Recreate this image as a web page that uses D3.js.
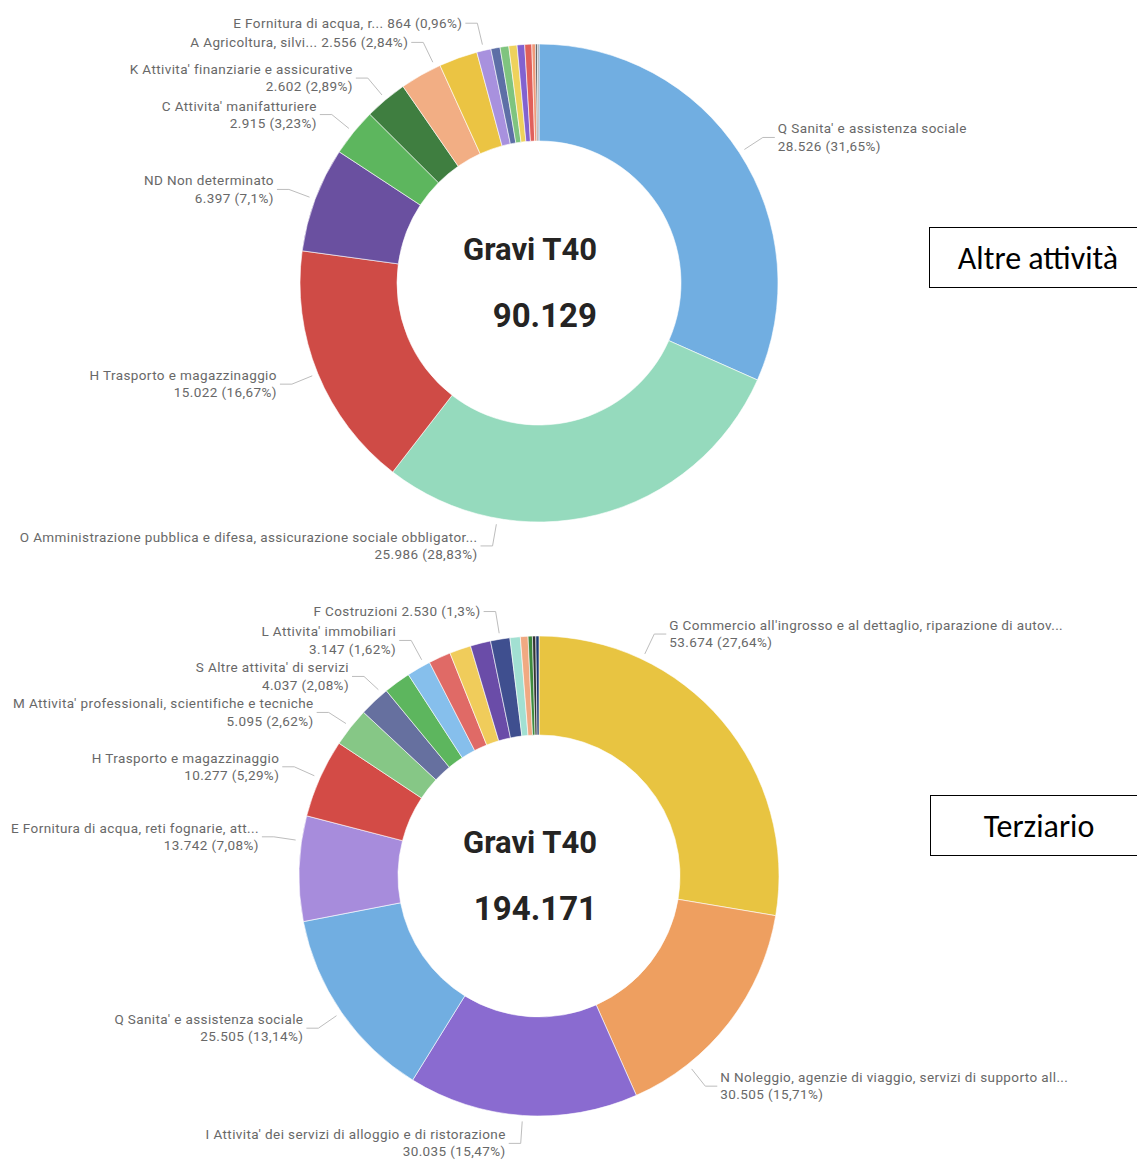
<!DOCTYPE html>
<html><head><meta charset="utf-8">
<script src="https://cdn.jsdelivr.net/npm/d3@7"></script>
<style>body{margin:0;background:#fff;} svg{display:block;}</style>
</head><body><svg id="chart" width="1137" height="1160"></svg>
<script>
// ---------- DATA: "Altre attività" ----------
const topTitle = "Gravi T40";
const topCategories = [
  "Q Sanita' e assistenza sociale",
  "O Amministrazione pubblica e difesa, assicurazione sociale obbligator...",
  "H Trasporto e magazzinaggio",
  "ND Non determinato",
  "C Attivita' manifatturiere",
  "K Attivita' finanziarie e assicurative",
  "A Agricoltura, silvi...",
  "", "E Fornitura di acqua, r...", "", "", "", "", "", "", "", ""
];
const topValues = [28526, 25986, 15022, 6397, 2915, 2602, 2556, 2350, 864, 560, 530, 500, 460, 430, 220, 110, 101];
const topColors = ["#71aee1", "#95dabd", "#cf4b46", "#6a50a0", "#5db65e", "#3f7e40", "#f2ae84", "#ebc443",
  "#a891de", "#5d6fa6", "#7fc47f", "#eed25c", "#8262d0", "#e0605b", "#f09a7a", "#444444", "#9aa0aa"];
const topLeaderT = [0.5, 0.733, 0.5, 0.5, 0.5, 0.5, 0.88, 0.5, 0.5, 0.5, 0.5, 0.5, 0.5, 0.5, 0.5, 0.5, 0.5];
const topInline = ["A Agricoltura, silvi...", "E Fornitura di acqua, r..."];
const topSideLabel = "Altre attività";

// ---------- DATA: "Terziario" ----------
const botTitle = "Gravi T40";
const botCategories = [
  "G Commercio all'ingrosso e al dettaglio, riparazione di autov...",
  "N Noleggio, agenzie di viaggio, servizi di supporto all...",
  "I Attivita' dei servizi di alloggio e di ristorazione",
  "Q Sanita' e assistenza sociale",
  "E Fornitura di acqua, reti fognarie, att...",
  "H Trasporto e magazzinaggio",
  "M Attivita' professionali, scientifiche e tecniche",
  "S Altre attivita' di servizi",
  "",
  "L Attivita' immobiliari",
  "", "", "",
  "F Costruzioni",
  "", "", "", "", ""
];
const botValues = [53674, 30505, 30035, 25505, 13742, 10277, 5095, 4037, 3515, 3147, 2900, 2800, 2650, 2530, 1350, 1000, 560, 440, 409];
const botColors = ["#e8c441", "#ee9f60", "#8a6bd0", "#71aee1", "#a78cdc", "#d34b46", "#86c786", "#66709f",
  "#5db65e", "#86bfec", "#e06a66", "#f0cc5b", "#6a4ca8", "#3f4f8f", "#a2e0d2", "#f0a982", "#3e8a3e", "#333333", "#1e3a70"];
const botLeaderT = [0.256, 0.745, 0.5, 0.5, 0.76, 0.5, 0.5, 0.83, 0.5, 0.77, 0.5, 0.5, 0.5, 0.5, 0.5, 0.5, 0.5, 0.5, 0.5];
const botInline = ["F Costruzioni"];
const botSideLabel = "Terziario";

// ---------- RENDER ----------
const it = d3.formatLocale({decimal: ",", thousands: ".", grouping: [3], currency: ["€", ""]});
const fmtInt = it.format(",d");
const fmtPct = it.format(".2~f");

const svg = d3.select("#chart");
svg.append("rect").attr("width", 1137).attr("height", 1160).attr("fill", "#fff");

function drawDonut(cfg) {
  const {cx, cy, R, r, categories, values, colors, leaderT, inline, title} = cfg;
  const data = values.map((v, i) => ({name: categories[i], v, color: colors[i], t: leaderT[i], i}));
  const total = d3.sum(values);
  const pie = d3.pie().sort(null).value(d => d.v).startAngle(0).endAngle(2 * Math.PI);
  const arcs = pie(data);
  const arc = d3.arc().innerRadius(r).outerRadius(R);
  const g = svg.append("g").attr("transform", `translate(${cx},${cy})`);
  g.selectAll("path.slice").data(arcs).join("path")
    .attr("class", "slice")
    .attr("d", arc)
    .attr("fill", d => d.data.color)
    .attr("stroke", "#fff").attr("stroke-width", 0.6);

  const pt = (a, rad) => [rad * Math.sin(a), -rad * Math.cos(a)];
  const labels = arcs.filter(d => d.data.name).map(d => {
    const a = d.startAngle + (d.endAngle - d.startAngle) * d.data.t;
    const side = a > Math.PI ? -1 : 1;
    const anchor = pt(a, R + 6);
    const elbow = pt(a, R + 28);
    const one = inline.includes(d.data.name);
    const valTxt = fmtInt(d.data.v) + " (" + fmtPct(d.data.v / total * 100) + "%)";
    return {d, a, side, anchor, elbow, y: elbow[1], one, h: one ? 17 : 34, valTxt};
  });
  // simple vertical collision resolution per side
  [-1, 1].forEach(s => {
    const L = labels.filter(l => l.side === s).sort((p, q) => p.y - q.y);
    for (let k = 1; k < L.length; k++) {
      const minY = L[k - 1].y + L[k - 1].h / 2 + L[k].h / 2 + 2;
      if (L[k].y < minY) L[k].y = minY;
    }
  });
  const hLen = 12, gap = 3;
  const lg = g.append("g");
  labels.forEach(l => {
    const ex = l.elbow[0], ey = l.y;
    lg.append("path")
      .attr("d", d3.line()([l.anchor, [ex, ey], [ex + l.side * hLen, ey]]))
      .attr("fill", "none").attr("stroke", "#bdbdbd").attr("stroke-width", 1);
    const tx = ex + l.side * (hLen + gap);
    const t = lg.append("text")
      .attr("x", tx).attr("y", ey)
      .attr("text-anchor", l.side < 0 ? "end" : "start")
      .attr("font-family", "Roboto, 'Noto Sans', sans-serif")
      .attr("font-size", 13.5).attr("letter-spacing", 0.4).attr("fill", "#686868");
    if (l.one) {
      t.append("tspan").attr("x", tx).attr("dy", "0.35em").text(l.d.data.name + " " + l.valTxt);
    } else {
      t.append("tspan").attr("x", tx).attr("dy", "-0.3em").text(l.d.data.name);
      t.append("tspan").attr("x", tx).attr("dy", "1.27em").text(l.valTxt);
    }
  });

  g.append("text").attr("x", 58).attr("y", -23)
    .attr("text-anchor", "end").attr("font-family", "Roboto, sans-serif")
    .attr("font-weight", 700).attr("font-size", 31).attr("fill", "#252423").text(title);
  g.append("text").attr("x", 58).attr("y", 44)
    .attr("text-anchor", "end").attr("font-family", "Roboto, sans-serif")
    .attr("font-weight", 700).attr("font-size", 33).attr("fill", "#252423").text(fmtInt(total));
}

function sideBox(x, y, label) {
  svg.append("rect").attr("x", x + 0.5).attr("y", y + 0.5).attr("width", 230).attr("height", 60)
    .attr("fill", "#fff").attr("stroke", "#000").attr("stroke-width", 1);
  svg.append("text").attr("x", x + 109).attr("y", y + 31)
    .attr("text-anchor", "middle").attr("dominant-baseline", "central")
    .attr("font-family", "Carlito, Lato, 'Open Sans', sans-serif").attr("font-size", 32)
    .attr("fill", "#000").text(label);
}

drawDonut({cx: 539, cy: 283, R: 239, r: 142, categories: topCategories, values: topValues,
  colors: topColors, leaderT: topLeaderT, inline: topInline, title: topTitle});
drawDonut({cx: 539, cy: 876, R: 240, r: 141, categories: botCategories, values: botValues,
  colors: botColors, leaderT: botLeaderT, inline: botInline, title: botTitle});
sideBox(929, 227, topSideLabel);
sideBox(930, 795, botSideLabel);
</script>
</body></html>
